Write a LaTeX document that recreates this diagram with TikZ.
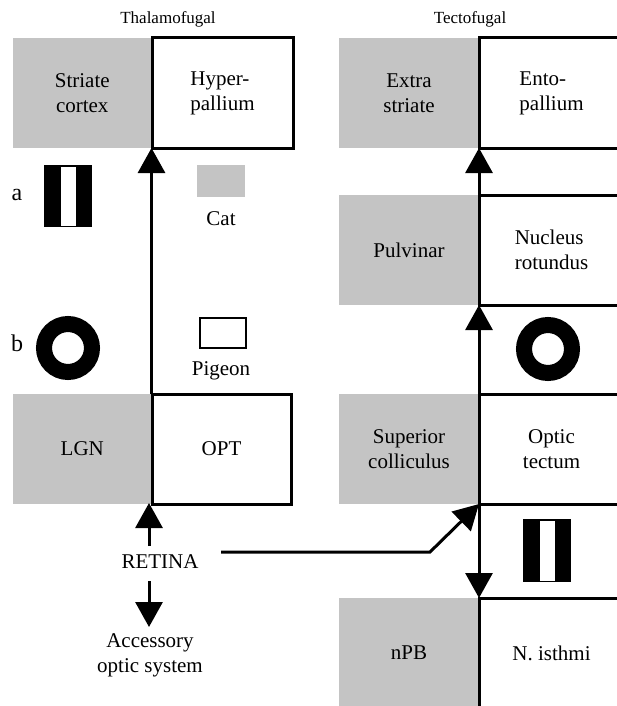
\documentclass[tikz,border=0pt]{standalone}
\usepackage{fontspec}
\setmainfont{Liberation Serif}
\usetikzlibrary{arrows.meta}
\tikzset{
  graybox/.style={fill=areagray,minimum width=#1,minimum height=110pt,anchor=north west,inner sep=0pt,outer sep=0pt,align=center},
  graybox/.default=140pt,
  whitebox/.style={draw=black,line width=3pt,fill=white,minimum height=110pt,anchor=north west,inner sep=0pt,outer sep=0pt,align=left},
  link/.style={line width=3pt,-{Triangle[length=25pt,width=27pt]}},
  label/.style={inner sep=0pt,align=center},
  title/.style={inner sep=0pt,font=\fontsize{17}{20}\selectfont},
  letter/.style={inner sep=0pt,font=\fontsize{24}{28}\selectfont},
  ring/.style={circle,draw=black,line width=16pt,fill=white,minimum size=48pt,inner sep=0pt},
}
\definecolor{areagray}{gray}{0.77}
\begin{document}
\begin{tikzpicture}
    [x=1pt,y=-1pt,font=\fontsize{21}{25}\selectfont]
    \useasboundingbox (0,0) rectangle (617,706);
    %titles
    \node[title] (thalamo) at (168,19) {Thalamofugal};
    \node[title] (tecto) at (470,19) {Tectofugal};
    %left column
    \node[graybox=138.5pt] (striate) at (13,38) {Striate\\cortex};
    \node[whitebox,minimum width=141pt] (hyper) at (152,38) {Hyper-\\pallium};
    \node[graybox=138.5pt] (lgn) at (13,394) {LGN};
    \node[whitebox,minimum width=139pt,align=center] (opt) at (152,394) {OPT};
    %right column
    \node[graybox] (extra) at (339,38) {Extra\\striate};
    \node[whitebox,minimum width=145pt] (ento) at (479,38) {Ento-\\pallium};
    \node[graybox] (pulvinar) at (339,195) {Pulvinar};
    \node[whitebox,minimum width=145pt] (nucleus) at (479,195) {Nucleus\\rotundus};
    \node[graybox] (superior) at (339,394) {Superior\\colliculus};
    \node[whitebox,minimum width=145pt,align=center] (tectum) at (479,394) {Optic\\tectum};
    \node[graybox] (npb) at (339,598) {nPB};
    \node[whitebox,minimum width=145pt,align=center] (isthmi) at (479,598) {N. isthmi};
    %stimuli
    \node[letter] (a) at (17,195) {a};
    \node[letter] (b) at (17,343) {b};
    \node[fill=black,minimum width=48pt,minimum height=62pt,inner sep=0pt] (barsa) at (68,196) {};
    \node[fill=white,draw=black,line width=1pt,minimum width=16pt,minimum height=60pt,inner sep=0pt] (stripea) at (barsa.center) {};
    \node[ring] (ringb) at (68,348) {};
    \node[ring] (ringc) at (548,349) {};
    \node[fill=black,minimum width=48pt,minimum height=63pt,inner sep=0pt] (barsc) at (547,550.5) {};
    \node[fill=white,minimum width=15pt,minimum height=60pt,inner sep=0pt] (stripec) at (barsc.center) {};
    %key
    \node[fill=areagray,minimum width=48pt,minimum height=32pt,inner sep=0pt] (catkey) at (221,181) {};
    \node[label] (cat) at (221,219) {Cat};
    \node[draw=black,line width=2.5pt,minimum width=46pt,minimum height=30pt,inner sep=0pt] (pigeonkey) at (223,333) {};
    \node[label] (pigeon) at (221,371) {Pigeon};
    %retina
    \node[label] (retina) at (160,562) {RETINA};
    \node[label] (accessory) at (150,655) {Accessory\\optic system};
    \coordinate (retinaup) at (149,546);
    \coordinate (lgnentry) at (149,503);
    \coordinate (retinadown) at (149,581);
    \coordinate (accessorytop) at (149,627);
    \coordinate (retinaout) at (221,552);
    \coordinate (retinabend) at (430,552);
    %pathways
    \draw[link] (lgn.north east) -- (striate.south east);
    \draw[link] (retinaup) -- (lgnentry);
    \draw[link] (retinadown) -- (accessorytop);
    \draw[link] (retinaout) -- (retinabend) -- (superior.south east);
    \draw[link,xshift=-1.5pt] (pulvinar.north east) -- (extra.south east);
    \draw[link,xshift=-1.5pt] (superior.north east) -- (pulvinar.south east);
    \draw[link] (superior.south east) -- (npb.north east);
\end{tikzpicture}
\end{document}
